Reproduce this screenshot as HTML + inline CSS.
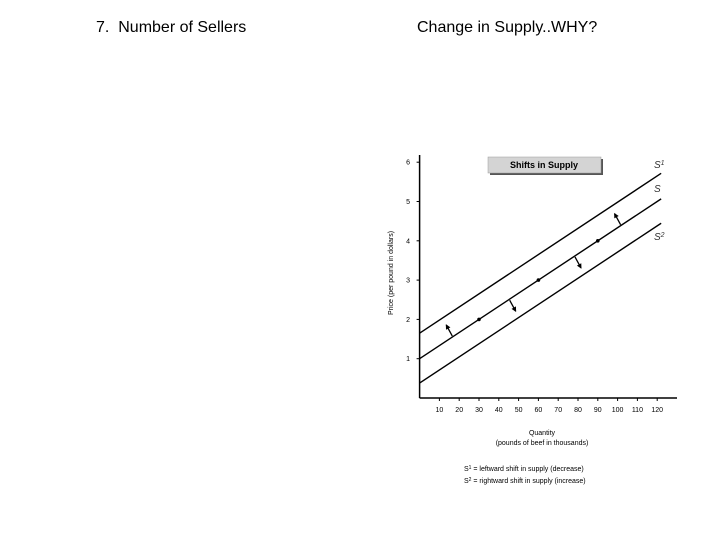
<!DOCTYPE html>
<html><head><meta charset="utf-8"><style>
body{margin:0;background:#fff;width:720px;height:540px;overflow:hidden;font-family:"Liberation Sans",Arial,sans-serif}
.h{position:absolute;font-size:16px;color:#000;white-space:pre;line-height:1}
</style></head><body>
<div class="h" style="left:96px;top:20px">7.  Number of Sellers</div>
<div class="h" style="left:417px;top:20px">Change in Supply..WHY?</div>
<svg id="chart" width="720" height="540" style="position:absolute;left:0;top:0" font-family="Liberation Sans, Arial, sans-serif"></svg>
<script>
const xTicks=[10,20,30,40,50,60,70,80,90,100,110,120];
const yTicks=[1,2,3,4,5,6];
const curveNames=["S1","S","S2"];
const intercepts=[1.65,1,0.38];
const slope=[1/30,1/30,1/30];
const dotQ=[30,60,90];
const arrowUpQ=[15,100];
const arrowDownQ=[47,80];
const X=q=>419.6+q*1.98, Y=p=>398-p*39.3;
const svg=document.getElementById('chart'),NS='http://www.w3.org/2000/svg';
function mk(t,a,txt){const e=document.createElementNS(NS,t);for(const k in a)e.setAttribute(k,a[k]);if(txt!==undefined)e.textContent=txt;svg.appendChild(e);return e;}
let e;
e=mk('line',{x1:X(0),y1:Y(0),x2:677,y2:Y(0),stroke:'#000','stroke-width':1.5});

e=mk('line',{x1:X(0),y1:Y(0),x2:X(0),y2:155,stroke:'#000','stroke-width':1.5});

xTicks.forEach(t=>{
 e=mk('line',{x1:X(t),y1:Y(0),x2:X(t),y2:Y(0)+3,stroke:'#000'});
 
 e=mk('text',{x:X(t),y:412,'font-size':7,'text-anchor':'middle'},t);
 
});
yTicks.forEach(t=>{
 e=mk('line',{x1:X(0)-3,y1:Y(t),x2:X(0),y2:Y(t),stroke:'#000'});
 
 e=mk('text',{x:410,y:Y(t)+2.5,'font-size':7,'text-anchor':'end'},t);
 
});
const qEnd=122;
curveNames.forEach((n,i)=>{
 e=mk('line',{x1:X(0),y1:Y(intercepts[i]),x2:X(qEnd),y2:Y(intercepts[i]+slope[i]*qEnd),stroke:'#000','stroke-width':1.4});
 
});
[['S',168,'1'],['S',192,''],['S',240,'2']].forEach((l,i)=>{
 e=mk('text',{x:654,y:l[1],'font-size':10,'font-style':'italic',fill:'#333'});
 
 e.innerHTML=l[0]+(l[2]?'<tspan dy="-3" font-size="7">'+l[2]+'</tspan>':'');
});
dotQ.forEach(q=>{e=mk('circle',{cx:X(q),cy:Y(intercepts[1]+slope[1]*q),r:1.8,fill:'#000'});
 });
function arrow(q,dir){
 const x=X(q),y=Y(intercepts[1]+slope[1]*q);
 const x0=x+(dir>0?3:-3), y0=y-(dir>0?3:-3);
 const x1=x0+(dir>0?-6:6), y1=y0+(dir>0?-11:11);
 e=mk('line',{x1:x0,y1:y0,x2:x1,y2:y1,stroke:'#000','stroke-width':1.3});
 
 const L=Math.hypot(x1-x0,y1-y0),ux=(x1-x0)/L,uy=(y1-y0)/L;
 e=mk('polygon',{points:`${x1+ux},${y1+uy} ${x1-ux*4-uy*2.5},${y1-uy*4+ux*2.5} ${x1-ux*4+uy*2.5},${y1-uy*4-ux*2.5}`,fill:'#000'});
 
}
arrowUpQ.forEach(q=>arrow(q,1));
arrowDownQ.forEach(q=>arrow(q,-1));
e=mk('rect',{x:490,y:159,width:113,height:16,fill:'#555'});

e=mk('rect',{x:488,y:157,width:113,height:16,fill:'#d4d4d4',stroke:'#999','stroke-width':0.5});

e=mk('text',{x:544,y:168,'font-size':9,'font-weight':'bold','text-anchor':'middle'},'Shifts in Supply');

e=mk('text',{x:0,y:0,'font-size':7,'text-anchor':'middle',transform:'translate(393,273) rotate(-90)'},'Price (per pound in dollars)');

e=mk('text',{x:542,y:435,'font-size':7,'text-anchor':'middle'},'Quantity');

e=mk('text',{x:542,y:445,'font-size':7,'text-anchor':'middle'},'(pounds of beef in thousands)');

e=mk('text',{x:464,y:471,'font-size':7});e.innerHTML='S<tspan dy="-2" font-size="5">1</tspan><tspan dy="2"> = leftward shift in supply (decrease)</tspan>';

e=mk('text',{x:464,y:483,'font-size':7});e.innerHTML='S<tspan dy="-2" font-size="5">2</tspan><tspan dy="2"> = rightward shift in supply (increase)</tspan>';

</script>
</body></html>
